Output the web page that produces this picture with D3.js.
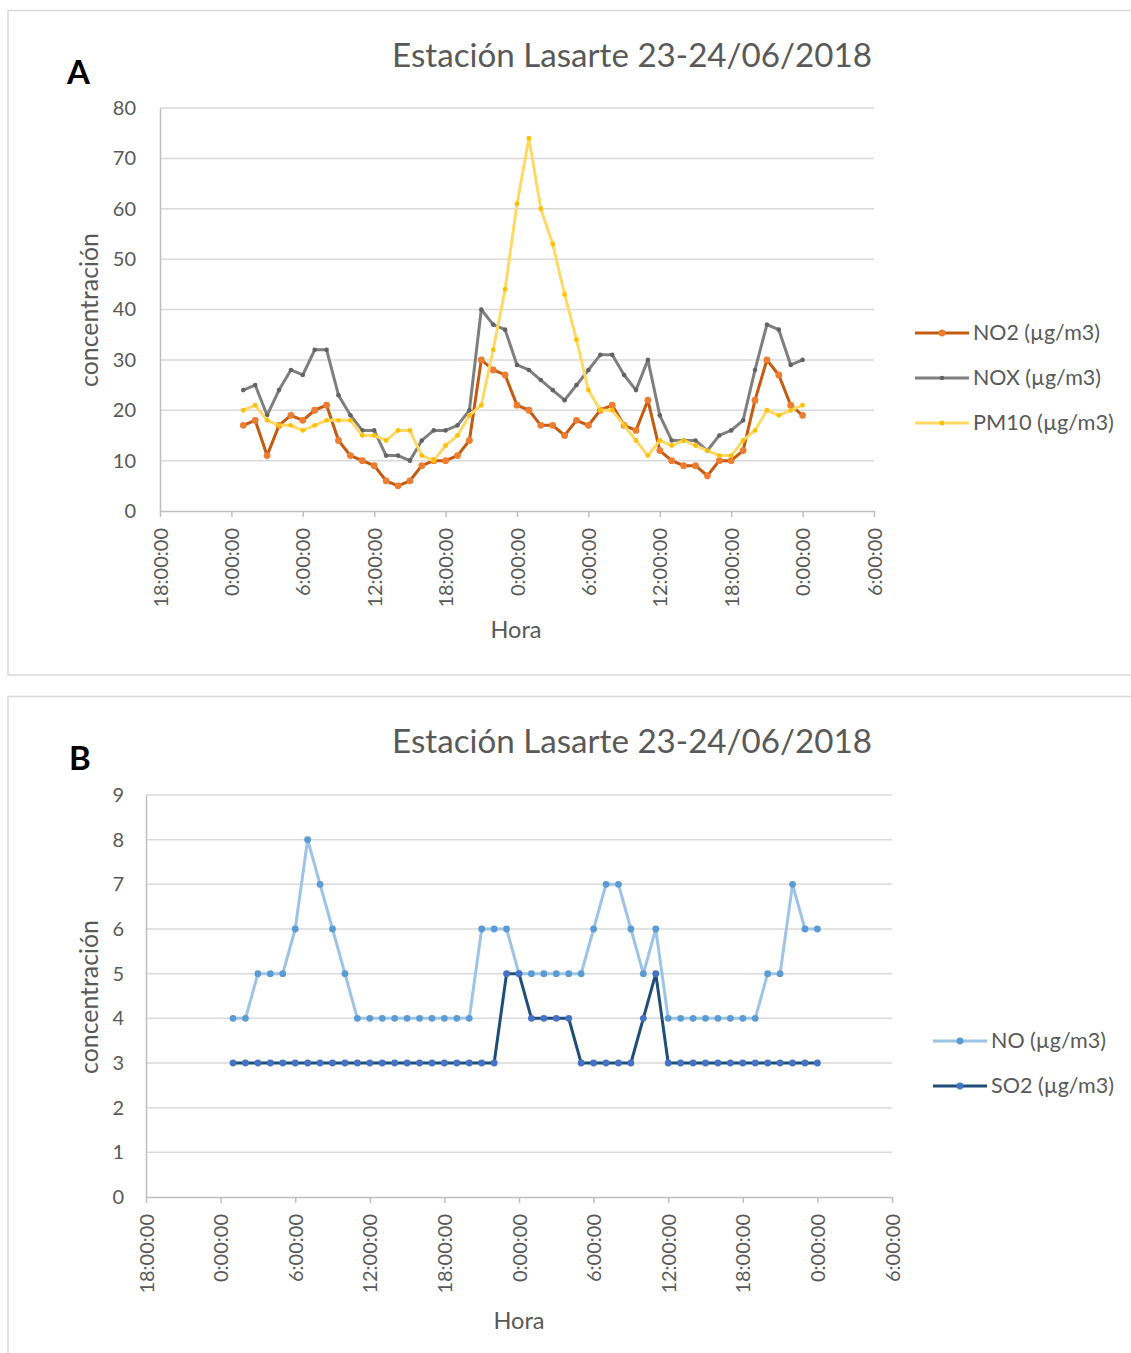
<!DOCTYPE html>
<html>
<head>
<meta charset="utf-8">
<script src="https://cdn.jsdelivr.net/npm/d3@7"></script>
<style>
  body { margin: 0; background: #fff; }
  text { font-family: Lato, "Open Sans", sans-serif; }
</style>
</head>
<body>
<svg id="chart" width="1131" height="1353"></svg>
<script>
// ---------------- DATA ----------------
const chartTitle = "Estación Lasarte 23-24/06/2018";
const xAxisTitle = "Hora";
const yAxisTitle = "concentración";
const firstHour = new Date(2018, 5, 23, 1, 0, 0);   // first hourly sample
const lastHour  = new Date(2018, 5, 25, 0, 0, 0);   // last hourly sample
const xDomain = [new Date(2018, 5, 22, 18, 0, 0), new Date(2018, 5, 25, 6, 0, 0)];

const seriesNamesA = ["NO2 (µg/m3)", "NOX (µg/m3)", "PM10 (µg/m3)"];
const no2  = [17,18,11,17,19,18,20,21,14,11,10,9,6,5,6,9,10,10,11,14,30,28,27,21,
              20,17,17,15,18,17,20,21,17,16,22,12,10,9,9,7,10,10,12,22,30,27,21,19];
const nox  = [24,25,19,24,28,27,32,32,23,19,16,16,11,11,10,14,16,16,17,20,40,37,36,29,
              28,26,24,22,25,28,31,31,27,24,30,19,14,14,14,12,15,16,18,28,37,36,29,30];
const pm10 = [20,21,18,17,17,16,17,18,18,18,15,15,14,16,16,11,10,13,15,19,21,32,44,61,
              74,60,53,43,34,24,20,20,17,14,11,14,13,14,13,12,11,11,14,16,20,19,20,21];
const yTicksA = [0,10,20,30,40,50,60,70,80];

const seriesNamesB = ["NO (µg/m3)", "SO2 (µg/m3)"];
const no   = [4,4,5,5,5,6,8,7,6,5,4,4,4,4,4,4,4,4,4,4,6,6,6,5,
              5,5,5,5,5,6,7,7,6,5,6,4,4,4,4,4,4,4,4,5,5,7,6,6];
const so2  = [3,3,3,3,3,3,3,3,3,3,3,3,3,3,3,3,3,3,3,3,3,3,5,5,
              4,4,4,4,3,3,3,3,3,4,5,3,3,3,3,3,3,3,3,3,3,3,3,3];
const yTicksB = [0,1,2,3,4,5,6,7,8,9];

// ---------------- SETUP ----------------
const hours = d3.timeHour.range(firstHour, d3.timeHour.offset(lastHour, 1));
const fmt = d3.timeFormat("%-H:%M:%S");
const svg = d3.select("#chart");
const TXT = "#595959", GRID = "#d9d9d9", AXIS = "#bfbfbf";

function fitWidth(sel, target) {
  const w = sel.node().getComputedTextLength();
  const fs = parseFloat(sel.attr("font-size"));
  sel.attr("font-size", fs * target / w);
}

function drawPanel(cfg) {
  const g = svg.append("g");
  // panel border
  g.append("rect").attr("x", cfg.box[0]).attr("y", cfg.box[1])
    .attr("width", cfg.box[2]).attr("height", cfg.box[3])
    .attr("fill", "none").attr("stroke", GRID).attr("stroke-width", 1.5);

  const x = d3.scaleTime().domain(xDomain).range([cfg.x0, cfg.x1]);
  const y = d3.scaleLinear().domain([0, d3.max(cfg.yTicks)]).range([cfg.y0, cfg.y1]);

  // gridlines
  g.append("g").selectAll("line").data(cfg.yTicks.filter(d => d > 0)).join("line")
    .attr("x1", cfg.x0).attr("x2", cfg.x1)
    .attr("y1", d => y(d)).attr("y2", d => y(d))
    .attr("stroke", GRID).attr("stroke-width", 1.5);

  // y axis
  const ya = g.append("g").attr("transform", `translate(${cfg.x0},0)`)
    .call(d3.axisLeft(y).tickValues(cfg.yTicks).tickSize(0).tickPadding(cfg.yPad));
  ya.select(".domain").attr("stroke", AXIS).attr("stroke-width", 1.5);
  ya.selectAll("text").attr("fill", TXT).attr("font-size", 20)
    .style("font-family", "Lato, sans-serif");

  // x axis
  const xa = g.append("g").attr("transform", `translate(0,${cfg.y0})`)
    .call(d3.axisBottom(x).ticks(d3.timeHour.every(6)).tickFormat(fmt).tickSize(6).tickSizeOuter(0));
  xa.select(".domain").attr("stroke", AXIS).attr("stroke-width", 1.5);
  xa.selectAll(".tick line").attr("stroke", AXIS).attr("stroke-width", 1.5);
  xa.selectAll("text").attr("fill", TXT).attr("font-size", 20)
    .style("font-family", "Lato, sans-serif")
    .attr("transform", "rotate(-90)")
    .attr("text-anchor", "end")
    .attr("x", -17).attr("y", 0).attr("dy", "0.35em");

  // series
  cfg.series.forEach(s => {
    const pts = hours.map((h, i) => [h, s.values[i]]);
    g.append("path").datum(pts)
      .attr("fill", "none").attr("stroke", s.line).attr("stroke-width", 3)
      .attr("stroke-linejoin", "round")
      .attr("d", d3.line().x(d => x(d[0])).y(d => y(d[1])));
    g.append("g").selectAll("circle").data(pts).join("circle")
      .attr("cx", d => x(d[0])).attr("cy", d => y(d[1]))
      .attr("r", s.r).attr("fill", s.marker);
  });

  // title
  const t = g.append("text").attr("x", cfg.titleX).attr("y", cfg.titleY)
    .attr("text-anchor", "middle").attr("fill", TXT).attr("font-size", 34)
    .text(chartTitle);
  fitWidth(t, 480);

  // panel letter
  g.append("text").attr("x", cfg.letterX).attr("y", cfg.letterY)
    .attr("font-size", 33).attr("font-weight", "bold").attr("fill", "#000")
    .text(cfg.letter);

  // axis titles
  const xt = g.append("text").attr("x", cfg.xTitle[0]).attr("y", cfg.xTitle[1])
    .attr("text-anchor", "middle").attr("fill", TXT).attr("font-size", 22).text(xAxisTitle);
  fitWidth(xt, 51);
  const yt = g.append("text").attr("transform", `translate(${cfg.yTitle[0]},${cfg.yTitle[1]}) rotate(-90)`)
    .attr("text-anchor", "middle").attr("fill", TXT).attr("font-size", 22).text(yAxisTitle);
  fitWidth(yt, 154);

  // legend
  cfg.series.forEach((s, i) => {
    const ly = cfg.legY + i * 45;
    g.append("line").attr("x1", cfg.legX).attr("x2", cfg.legX + 54)
      .attr("y1", ly).attr("y2", ly).attr("stroke", s.line).attr("stroke-width", 3);
    g.append("circle").attr("cx", cfg.legX + 27).attr("cy", ly).attr("r", s.r).attr("fill", s.marker);
    const lt = g.append("text").attr("x", cfg.legX + 58).attr("y", ly + 7)
      .attr("fill", TXT).attr("font-size", 21).text(s.name);
    fitWidth(lt, s.w);
  });
}

drawPanel({
  box: [8, 10.5, 1140, 664.5],
  x0: 160, x1: 874, y0: 511, y1: 108, yPad: 24, yTicks: yTicksA,
  titleX: 632, titleY: 67, letter: "A", letterX: 67, letterY: 84,
  xTitle: [516, 638], yTitle: [98, 310],
  legX: 915, legY: 333,
  series: [
    {name: seriesNamesA[0], values: no2,  line: "#C55A11", marker: "#ED7D31", r: 3.4, w: 127},
    {name: seriesNamesA[1], values: nox,  line: "#7F7F7F", marker: "#636363", r: 2.3, w: 128},
    {name: seriesNamesA[2], values: pm10, line: "#FFD966", marker: "#FFC000", r: 2.4, w: 141}
  ]
});

drawPanel({
  box: [8, 696.5, 1140, 680],
  x0: 146, x1: 892, y0: 1197, y1: 795, yPad: 22, yTicks: yTicksB,
  titleX: 632, titleY: 753, letter: "B", letterX: 69, letterY: 770,
  xTitle: [519, 1329], yTitle: [98, 997],
  legX: 933, legY: 1041,
  series: [
    {name: seriesNamesB[0], values: no,  line: "#9DC3E6", marker: "#5B9BD5", r: 3.4, w: 115},
    {name: seriesNamesB[1], values: so2, line: "#1F4E79", marker: "#4472C4", r: 3.4, w: 123}
  ]
});
</script>
</body>
</html>
